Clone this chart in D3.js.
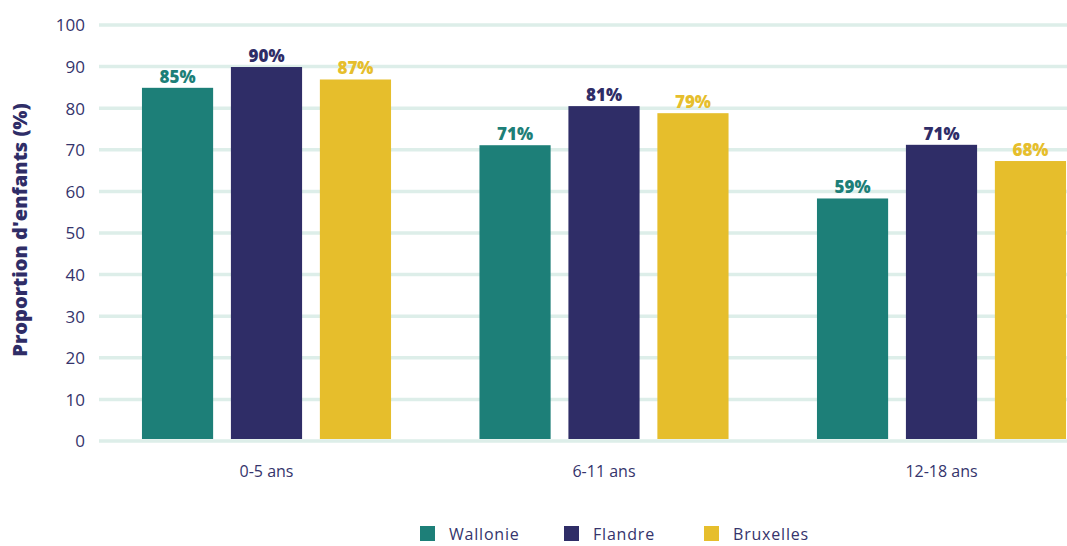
<!DOCTYPE html>
<html><head><meta charset="utf-8">
<script src="https://cdn.jsdelivr.net/npm/d3@7"></script>
<style>body{margin:0;background:#fff}svg{display:block}</style>
</head><body><svg id="c" width="1067" height="546"></svg>
<script>
const categories = ["0-5 ans", "6-11 ans", "12-18 ans"];
const seriesNames = ["Wallonie", "Flandre", "Bruxelles"];
const wallonie = [84.9, 71.1, 58.3];
const flandre = [89.9, 80.5, 71.2];
const bruxelles = [86.9, 78.8, 67.3];
const labelsW = ["85%", "71%", "59%"];
const labelsF = ["90%", "81%", "71%"];
const labelsB = ["87%", "79%", "68%"];
const yTicks = [0, 10, 20, 30, 40, 50, 60, 70, 80, 90, 100];
const colors = ["#1d7f78", "#2f2d67", "#e6be2c"];

const values = [wallonie, flandre, bruxelles];
const labels = [labelsW, labelsF, labelsB];
const svg = d3.select("#c");
const font = "'Open Sans', Lato, sans-serif";
const textCol = "#35346c";

const y = d3.scaleLinear().domain([0, 100]).range([441, 25]);
const x0 = d3.scaleBand().domain(categories).range([97.75, 1110.25]).paddingInner(0.262).paddingOuter(0.131);
const x1 = d3.scaleBand().domain(seriesNames).range([0, x0.bandwidth()]).paddingInner(0.2);

// gridlines
svg.append("g").selectAll("line").data(yTicks).join("line")
  .attr("x1", 99).attr("x2", 1067)
  .attr("y1", d => y(d)).attr("y2", d => y(d))
  .attr("stroke", "#ddeee9").attr("stroke-width", 3.5);

// y axis labels
const yAxis = svg.append("g").attr("transform", "translate(85,0)")
  .call(d3.axisLeft(y).tickValues(yTicks).tickSize(0).tickPadding(0));
yAxis.select(".domain").remove();
yAxis.selectAll("text").attr("font-family", font).attr("font-size", 17).attr("fill", textCol).attr("dy", "0.35em");

// x axis labels
const xAxis = svg.append("g").attr("transform", "translate(0,466)")
  .call(d3.axisBottom(x0).tickSize(0).tickPadding(0));
xAxis.select(".domain").remove();
xAxis.selectAll("text").attr("font-family", font).attr("font-size", 16).attr("fill", textCol).attr("dy", "0.71em");

// bars
const groups = svg.append("g").selectAll("g").data(categories).join("g")
  .attr("transform", d => `translate(${x0(d)},0)`);
groups.each(function(cat, ci) {
  const g = d3.select(this);
  seriesNames.forEach((s, si) => {
    const v = values[si][ci];
    g.append("rect").attr("x", x1(s)).attr("width", x1.bandwidth())
      .attr("y", y(v)).attr("height", 439 - y(v)).attr("fill", colors[si]);
    g.append("text").attr("x", x1(s) + x1.bandwidth() / 2).attr("y", y(v) - 5)
      .attr("text-anchor", "middle").attr("font-family", font).attr("font-weight", 800)
      .attr("font-size", 17).attr("fill", colors[si]).text(labels[si][ci]);
  });
});

// y title
svg.append("text").attr("transform", "translate(27,230) rotate(-90)")
  .attr("text-anchor", "middle").attr("font-family", font).attr("font-weight", 800)
  .attr("font-size", 20).attr("fill", "#2f2d67").text("Proportion d'enfants (%)");

// legend
const legX = [420, 564, 704];
const leg = svg.append("g").selectAll("g").data(seriesNames).join("g")
  .attr("transform", (d, i) => `translate(${legX[i]},526)`);
leg.append("rect").attr("width", 15).attr("height", 15).attr("fill", (d, i) => colors[i]);
leg.append("text").attr("x", 29).attr("y", 8).attr("dy", "0.35em")
  .attr("font-family", font).attr("font-size", 16).attr("letter-spacing", 0.8)
  .attr("fill", textCol).text(d => d);
</script></body></html>
